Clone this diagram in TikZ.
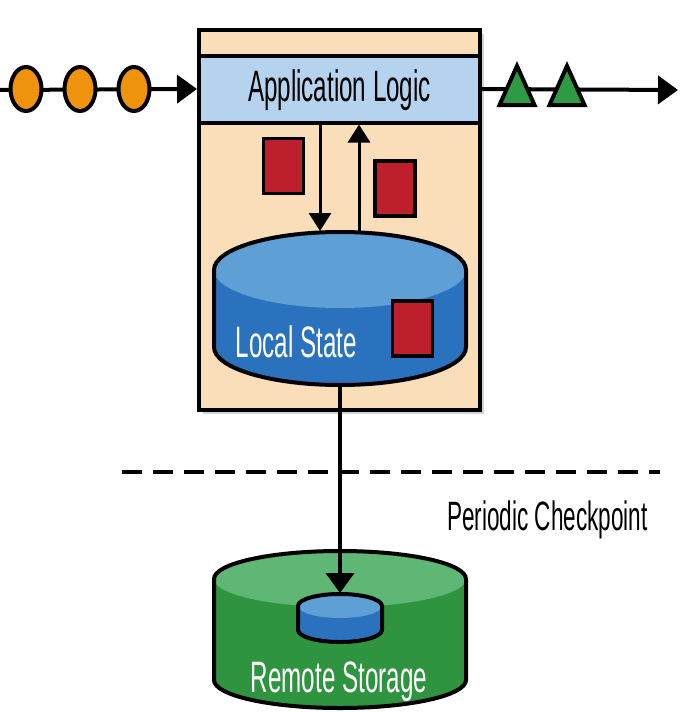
\documentclass[tikz,border=0pt]{standalone}
\usepackage{fontspec}
\setmainfont{Liberation Sans}[FakeStretch=0.55]
\usetikzlibrary{shapes.geometric, arrows.meta, positioning, shadows}
\definecolor{peach}{RGB}{250,222,185}
\definecolor{barblue}{RGB}{181,211,238}
\definecolor{evorange}{RGB}{240,147,12}
\definecolor{resgreen}{RGB}{47,154,68}
\definecolor{recred}{RGB}{189,31,44}
\definecolor{dbtop}{RGB}{94,159,214}
\definecolor{dbbody}{RGB}{42,114,189}
\definecolor{remtop}{RGB}{95,183,117}
\definecolor{rembody}{RGB}{46,148,64}

\newcommand{\storecyl}[7]{%
  \fill[#7] (#1-#4,#2) -- (#1-#4,#3) arc[start angle=180, end angle=360, x radius=#4, y radius=#5] -- (#1+#4,#2) -- cycle;
  \fill[#6] (#1,#2) ellipse[x radius=#4, y radius=#5];
  \draw[line width=4pt] (#1-#4,#2) -- (#1-#4,#3) arc[start angle=180, end angle=360, x radius=#4, y radius=#5]
    -- (#1+#4,#2) arc[start angle=0, end angle=180, x radius=#4, y radius=#5] -- cycle;
}

\begin{document}
\begin{tikzpicture}[x=1pt, y=1pt,
    proc/.style={rectangle, draw=black, line width=4pt, fill=peach,
      minimum width=281pt, minimum height=380pt,
      drop shadow={shadow xshift=4pt, shadow yshift=-4pt, opacity=0.35}},
    logic/.style={rectangle, draw=black, line width=4pt, fill=barblue,
      minimum width=281pt, minimum height=67pt, text height=32pt, text depth=8pt,
      font=\fontsize{44}{48}\selectfont},
    ev/.style={ellipse, draw=black, line width=4pt, fill=evorange,
      minimum width=31pt, minimum height=44pt, inner sep=0pt},
    rec/.style={rectangle, draw=black, line width=3.5pt, fill=recred,
      minimum width=40pt, minimum height=55pt, inner sep=0pt},
    res/.style={draw=black, line width=4pt, fill=resgreen},
    lbl/.style={anchor=base, inner sep=0pt, font=\fontsize{44}{48}\selectfont},
    cut/.style={line width=4pt, dash pattern=on 20pt off 11pt},
    flecha/.style={-{Triangle[length=20pt, width=28pt]}, line width=4pt},
    flechita/.style={-{Triangle[length=18pt, width=22pt]}, line width=3pt}
  ]
  \useasboundingbox (0,0) rectangle (697,-712);

  \node[proc] (proc) at (339.5,-220) {};
  \node[logic] (logic) at (339.5,-89) {Application Logic};

  \coordinate (in) at (0,-90);
  \coordinate (out) at (678,-90);
  \draw[flecha] (in) -- (logic.west);
  \draw[flecha] (logic.east) -- (out);
  \foreach \i/\x in {1/26,2/80,3/134}
    \node[ev] (ev\i) at (\x,-89) {};
  \foreach \x in {517,567}
    \draw[res] (\x-17.5,-105) -- (\x,-66) -- (\x+17.5,-105) -- cycle;

  \node[rec] (rec1) at (283.5,-166) {};
  \node[rec] (rec2) at (395,-188.5) {};

  \coordinate (st-in) at (320,-231);
  \coordinate (st-out) at (359,-231);
  \draw[flechita] (st-in |- logic.south) -- (st-in);
  \draw[flechita] (st-out) -- (st-out |- logic.south);

  \storecyl{340}{-270}{-347}{126}{38}{dbtop}{dbbody}
  \node[rec] (rec3) at (412.5,-328.5) {};
  \node[lbl, text=white] (state) at (296.5,-357) {Local State};

  \coordinate (cut-l) at (122,-472);
  \coordinate (cut-r) at (660,-472);
  \draw[cut] (cut-l) -- (cut-r);
  \node[lbl, font=\fontsize{41}{46}\selectfont] (ckpt) at (547.5,-530) {Periodic Checkpoint};

  \storecyl{340}{-579}{-680}{126}{28}{remtop}{rembody}
  \storecyl{340}{-606}{-630}{42}{12}{dbtop}{dbbody}
  \node[lbl, text=white] (remote) at (339,-692) {Remote Storage};

  \coordinate (state-bot) at (340,-386);
  \coordinate (cache-top) at (340,-593);
  \draw[flecha] (state-bot) -- (cache-top);
\end{tikzpicture}
\end{document}
